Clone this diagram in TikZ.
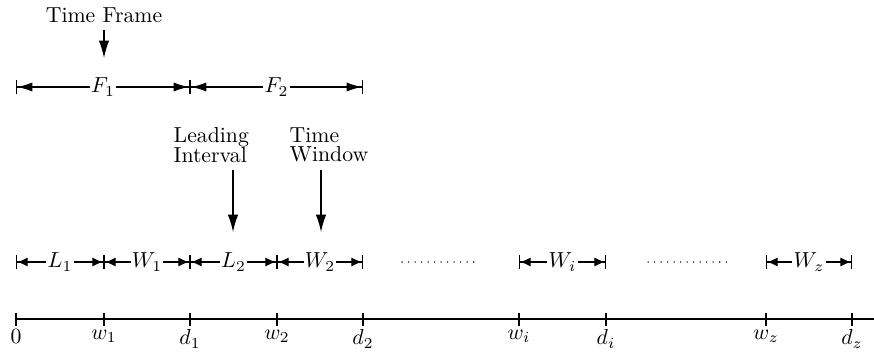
\documentclass[tikz,border=0pt]{standalone}
\usetikzlibrary{arrows.meta, positioning, calc}

\tikzset{
  span/.style={line width=0.55pt,
    {Bar[width=6.5pt]Latex[length=#1,width=4.2pt]}-{Latex[length=#1,width=4.2pt]Bar[width=6.5pt]}},
  span/.default=4.8pt,
  spanlabel/.style={midway, fill=white, inner sep=0.6pt},
  pointer/.style={line width=0.55pt, -{Latex[length=8pt,width=4.8pt]}},
  ticklabel/.style={below, inner sep=1.5pt},
  caption/.style={anchor=west, align=left},
  gap/.style={line width=0.7pt, line cap=round, dash pattern=on 0pt off 3pt},
}

\begin{document}
\begin{tikzpicture}[x=0.46pt,y=0.46pt]
\useasboundingbox (0,0) rectangle (874,351);
\def\axisy{32}
\def\rowy{89}
\def\framey{264}

% Points on the time axis
\foreach \p/\x/\t in {0/16/0, w1/104/w_1, d1/190/d_1, w2/277/w_2, d2/363/d_2,
                      wi/519/w_i, di/606/d_i, wz/766/w_z, dz/852/d_z}{
  \coordinate (a\p) at (\x,\axisy);
  \coordinate (r\p) at (\x,\rowy);
  \coordinate (f\p) at (\x,\framey);
  \draw[line width=0.55pt] (\x,\axisy+6) -- (\x,\axisy-7)
    node[ticklabel] (lab\p) {$\t$};
}

% Time axis
\coordinate (aend) at (874,\axisy);
\draw[line width=0.6pt] (a0) -- (aend);

% Leading intervals and windows
\foreach \a/\b/\t in {0/w1/L_1, w1/d1/W_1, d1/w2/L_2, w2/d2/W_2, wi/di/W_i, wz/dz/W_z}{
  \draw[span] (r\a) -- (r\b) node[spanlabel] {$\t$};
}
\coordinate (gapA) at (402,\rowy);
\coordinate (gapB) at (480,\rowy);
\coordinate (gapC) at (648,\rowy);
\coordinate (gapD) at (727,\rowy);
\draw[gap] (gapA) -- (gapB);
\draw[gap] (gapC) -- (gapD);

% Time frames
\draw[span=7pt] (f0) -- (fd1) node[spanlabel] {$F_1$};
\draw[span=7pt] (fd1) -- (fd2) node[spanlabel] {$F_2$};

% Captions
\node (frame) at (104,336) {Time Frame};
\coordinate (frameTip) at (104,293);
\draw[pointer] (frame.south) -- (frameTip);

\node[caption] (lead) at (166,206) {Leading\\[-3pt]Interval};
\coordinate (leadTip) at (233,119);
\draw[pointer] (lead.south -| leadTip) -- (leadTip);

\node[caption] (win) at (282,206) {Time\\[-3pt]Window};
\coordinate (winTip) at (321,119);
\draw[pointer] (win.south -| winTip) -- (winTip);
\end{tikzpicture}
\end{document}
